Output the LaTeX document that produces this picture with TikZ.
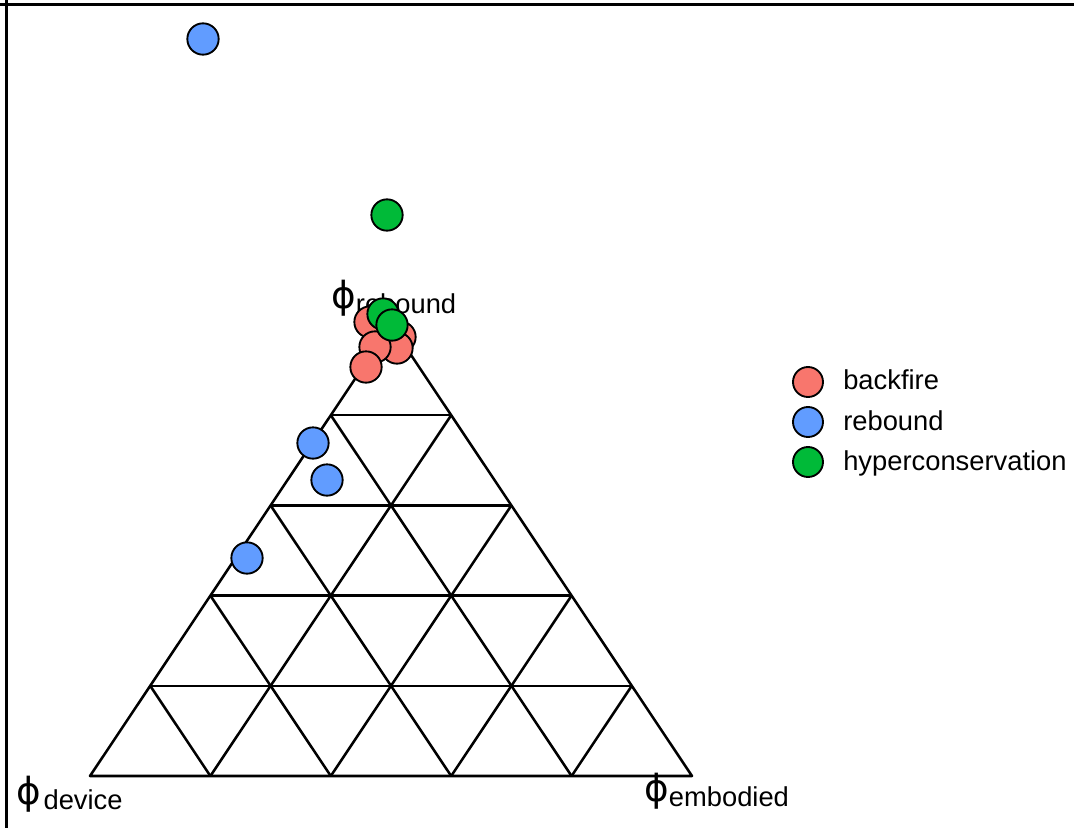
\documentclass[tikz,border=0pt]{standalone}
\usepackage{fontspec}
\setmainfont{Liberation Sans}
\newfontfamily\phifont{DejaVu Sans}
\usetikzlibrary{calc}
\definecolor{bfcol}{HTML}{F8766D}
\definecolor{rbcol}{HTML}{619CFF}
\definecolor{hccol}{HTML}{00BA38}
\newcommand\philab[2][0pt]{{\phifont\fontsize{28}{30}\selectfont ϕ}\kern#1{\fontsize{20.5}{24}\selectfont\raisebox{-3.75pt}{#2}}}
\tikzset{
  pt/.style={circle, draw=black, line width=1.4pt, inner sep=0pt, minimum size=23.5pt},
  bf/.style={pt, fill=bfcol},
  rb/.style={pt, fill=rbcol},
  hc/.style={pt, fill=hccol},
  gridline/.style={line width=1.9pt, line join=round},
  axlab/.style={inner sep=0pt, anchor=base west},
  legtext/.style={inner sep=0pt, anchor=base west, font=\fontsize{20.5}{24}\selectfont},
  frameline/.style={line width=2.6pt}
}
\begin{document}
\begin{tikzpicture}[x=0.75pt,y=-0.75pt]
\useasboundingbox (0,0) rectangle (1074,828);
% frame (top and left)
\draw[frameline] (0,4.7) -- (1074,4.7);
\draw[frameline] (6.5,0) -- (6.5,828);
% triangle vertices
\coordinate (A) at (90,776);
\coordinate (B) at (692,776);
\coordinate (C) at (391,325);
\draw[gridline] (A) -- (B) -- (C) -- cycle;
\foreach \k in {1,2,3,4}{
  \pgfmathsetmacro{\r}{\k/5}
  \pgfmathsetmacro{\s}{1-\k/5}
  % horizontal
  \draw[gridline] ($(A)!\r!(C)$) -- ($(B)!\r!(C)$);
  % parallel to AC
  \draw[gridline] ($(A)!\r!(B)$) -- ($(B)!\s!(C)$);
  % parallel to BC
  \draw[gridline] ($(A)!\r!(B)$) -- ($(A)!\r!(C)$);
}
% axis labels
\node[axlab] (ldev) at (16,804) {\philab[2pt]{device}};
\node[axlab] (lemb) at (644,801) {\philab{embodied}};
\node[axlab] (lreb) at (331,308) {\philab{rebound}};
% rebound points
\node[rb] (r1) at (203,39) {};
\node[rb] (r2) at (313,443) {};
\node[rb] (r3) at (327,480) {};
\node[rb] (r4) at (247,558) {};
% backfire points
\node[bf] (b1) at (400,337) {};
\node[bf] (b2) at (397,348) {};
\node[bf] (b3) at (370,322) {};
\node[bf] (b4) at (375,347) {};
\node[bf] (b5) at (366,367) {};
% hyperconservation points
\node[hc] (h1) at (387,215) {};
\node[hc] (h2) at (383,314) {};
\node[hc] (h3) at (392,325) {};
% legend
\node[bf, minimum size=22.5pt] (k1) at (808,382) {};
\node[rb, minimum size=22.5pt] (k2) at (808,422) {};
\node[hc, minimum size=22.5pt] (k3) at (808,462) {};
\node[legtext] (t1) at (843,389) {backfire};
\node[legtext] (t2) at (843,430) {rebound};
\node[legtext] (t3) at (843,470) {hyperconservation};
\end{tikzpicture}
\end{document}
